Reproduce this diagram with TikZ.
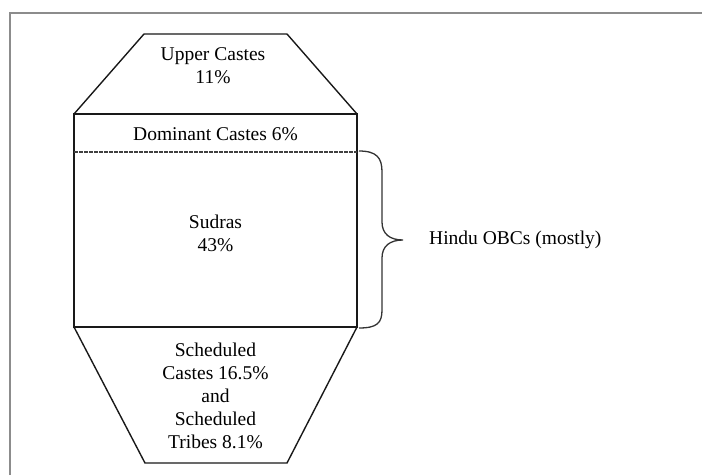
\documentclass[tikz,border=0pt]{standalone}
\usepackage{fontspec}
\setmainfont{Liberation Serif}
\begin{document}
\begin{tikzpicture}[x=1pt,y=-1pt,
  shapeline/.style={line width=1.4pt, black!90, line join=miter},
  lbl/.style={font=\fontsize{19.5}{23}\selectfont, align=center, inner sep=0pt, text=black},
  bracestyle/.style={line width=1.3pt, black!80}]
\useasboundingbox (0,0) rectangle (702,475);
% frame
\draw[line width=1.5pt, black!45] (10,475) -- (10,13) -- (702,13);
% shapes
\coordinate (tl) at (74,114);
\coordinate (tr) at (357,114);
\coordinate (bl) at (74,327);
\coordinate (br) at (357,327);
\draw[shapeline] (tl) -- (144,34) -- (287,34) -- (tr);
\draw[shapeline] (tl) rectangle (br);
\draw[shapeline] (bl) -- (145,463) -- (287,463) -- (br);
\coordinate (dl) at (74,152);
\coordinate (dr) at (357,152);
\draw[line width=1.1pt, black!75, dash pattern=on 3.5pt off 1.5pt] (dl) -- (dr);
% labels
\node[lbl] (upper) at (213,66) {Upper Castes\\11\%};
\node[lbl] (dom) at (215.5,134) {Dominant Castes 6\%};
\node[lbl] (sud) at (215.5,233) {Sudras\\43\%};
\node[lbl] (sc) at (215.5,396) {Scheduled\\Castes 16.5\%\\and\\Scheduled\\Tribes 8.1\%};
\node[lbl, anchor=west] (obc) at (429,240) {Hindu OBCs (mostly)};
% brace
\coordinate (btop) at (359,151);
\coordinate (btip) at (403,240);
\coordinate (bbot) at (359,328);
\draw[bracestyle] (btop) .. controls (377,151) and (382,158) .. (382,172)
  -- (382,222) .. controls (382,234) and (390,240) .. (btip)
  .. controls (390,240) and (382,246) .. (382,258)
  -- (382,310) .. controls (382,323) and (377,328) .. (bbot);
\end{tikzpicture}
\end{document}
